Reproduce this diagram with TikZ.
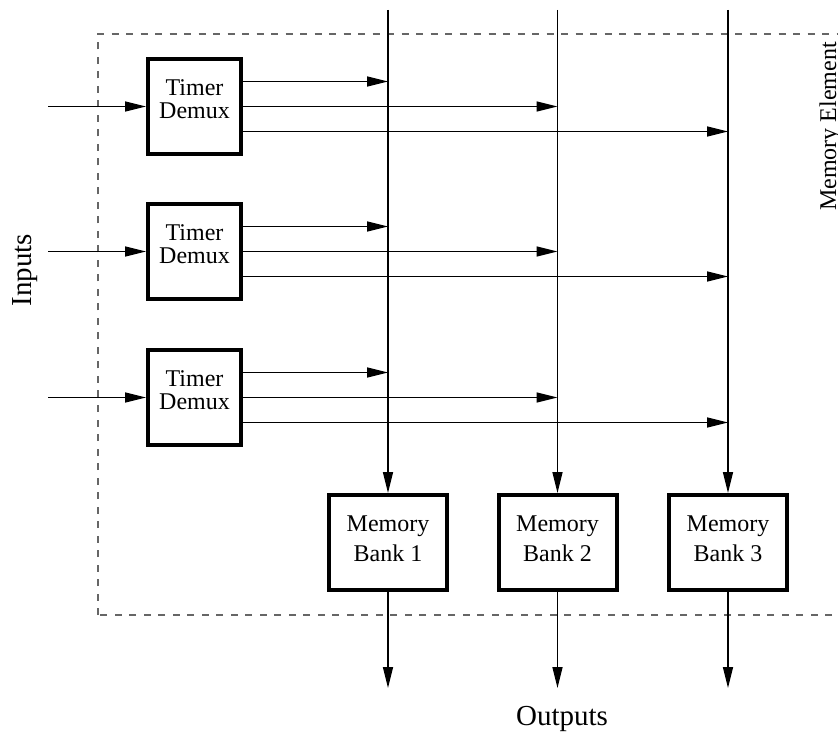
\documentclass[tikz,border=0pt]{standalone}
\usepackage{fontspec}
\setmainfont{Liberation Serif}
\usetikzlibrary{arrows.meta}
\begin{document}
\begin{tikzpicture}[x=1pt,y=1pt,
  thin/.style={line width=1.4pt},
  arr/.style={thin,-{Triangle[length=21pt,width=10pt]}},
  blk/.style={draw,line width=4pt,inner sep=0pt},
  tbox/.style={blk,minimum width=93pt,minimum height=95pt},
  mbox/.style={blk,minimum width=118pt,minimum height=95pt},
  ttext/.style={inner sep=0pt,align=center,font=\fontsize{24}{23.5}\selectfont},
  mtext/.style={inner sep=0pt,align=center,font=\fontsize{24}{30}\selectfont},
  frame/.style={dashed,dash pattern=on 7pt off 7.5pt,line width=1.4pt,draw=black!60},
  biglbl/.style={font=\fontsize{29}{32}\selectfont,inner sep=0pt},
  lbl/.style={font=\fontsize{24}{27}\selectfont,inner sep=0pt}]
\useasboundingbox (0,0) rectangle (838,732);
\draw[frame] (98,117) rectangle (870,698);

% timer demux boxes
\node[tbox,label={[ttext,name=t1l,yshift=7.5pt]center:Timer\\Demux}] (t1) at (194.5,625.5) {};
\node[tbox,label={[ttext,name=t2l,yshift=7.5pt]center:Timer\\Demux}] (t2) at (194.5,480.5) {};
\node[tbox,label={[ttext,name=t3l,yshift=7.5pt]center:Timer\\Demux}] (t3) at (194.5,334.5) {};

% memory banks
\node[mbox,label={[mtext,name=m1l,yshift=4pt]center:Memory\\Bank 1}] (m1) at (388,189.5) {};
\node[mbox,label={[mtext,name=m2l,yshift=4pt]center:Memory\\Bank 2}] (m2) at (557.5,189.5) {};
\node[mbox,label={[mtext,name=m3l,yshift=4pt]center:Memory\\Bank 3}] (m3) at (728,189.5) {};

% vertical bus lines
\coordinate (v1) at (388,722);
\coordinate (v2) at (557.5,722);
\coordinate (v3) at (728,722);
\draw[arr] (v1) -- (m1.north);
\draw[arr] (v2) -- (m2.north);
\draw[arr] (v3) -- (m3.north);

% inputs
\foreach \t in {t1,t2,t3}{
  \coordinate (in-\t) at ([xshift=-98pt]\t.west);
  \draw[arr] (in-\t) -- (\t.west);
  \draw[arr] ([yshift=25pt]\t.east) -- ([yshift=25pt]\t.east -| v1);
  \draw[arr] (\t.east) -- (\t.east -| v2);
  \draw[arr] ([yshift=-25pt]\t.east) -- ([yshift=-25pt]\t.east -| v3);
}

% outputs
\foreach \m in {m1,m2,m3}{
  \coordinate (o-\m) at ([yshift=-96pt]\m.south);
  \draw[arr] (\m.south) -- (o-\m);
}

% labels
\node[biglbl,anchor=base] (outl) at (562,7) {Outputs};
\node[biglbl,rotate=90,anchor=base] (inl) at (31.5,462) {Inputs};
\node[lbl,rotate=90,anchor=base] (mel) at (836,605.5) {Memory Element};
\end{tikzpicture}
\end{document}
